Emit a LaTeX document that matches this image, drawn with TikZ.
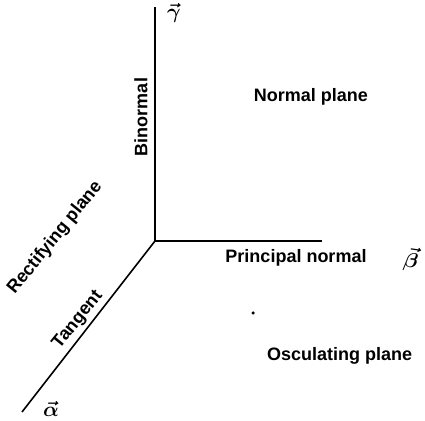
\documentclass[tikz,border=0pt]{standalone}
\usepackage{amsmath}
\usepackage{fontspec}
\setmainfont{Liberation Sans}
\usetikzlibrary{positioning}

\begin{document}
\begin{tikzpicture}[x=1pt, y=1pt,
  axis/.style = {line width=1.6pt, black},
  lbl/.style  = {font=\fontsize{18}{20}\selectfont\bfseries, inner sep=0pt},
  vec/.style  = {font=\fontsize{20}{22}\selectfont\boldmath, inner sep=0pt},
  dot/.style  = {circle, fill=black, inner sep=0pt, minimum size=3.5pt},
]
\useasboundingbox (0,0) rectangle (425,420);

\coordinate (o)      at (155,179);
\coordinate (binEnd) at (155,413);
\coordinate (norEnd) at (322,179);
\coordinate (tanEnd) at (22,8);

\draw[axis] (o) -- (binEnd);
\draw[axis] (o) -- (norEnd);
\draw[axis] (o) -- (tanEnd);

%% vectors
\node[vec] (gamma) at (174,407) {$\vec{\gamma}$};
\node[vec, rotate=-8] (beta) at (411,161) {$\vec{\beta}$};
\node[vec] (alpha) at (51,11) {$\vec{\alpha}$};

%% axis names
\node[lbl, rotate=90] (binormal) at (141,303) {Binormal};
\node[lbl] (principal) at (296,162) {Principal normal};
\node[lbl, rotate=51] (tangent) at (78,100) {Tangent};

%% planes
\node[lbl] (normalpl) at (311,323) {Normal plane};
\node[lbl, rotate=51] (rectpl) at (55,182) {Rectifying plane};
\node[lbl, anchor=west] (osculpl) at (267,64) {Osculating plane};

\node[dot] (pt) at (253,107) {};

\end{tikzpicture}
\end{document}
